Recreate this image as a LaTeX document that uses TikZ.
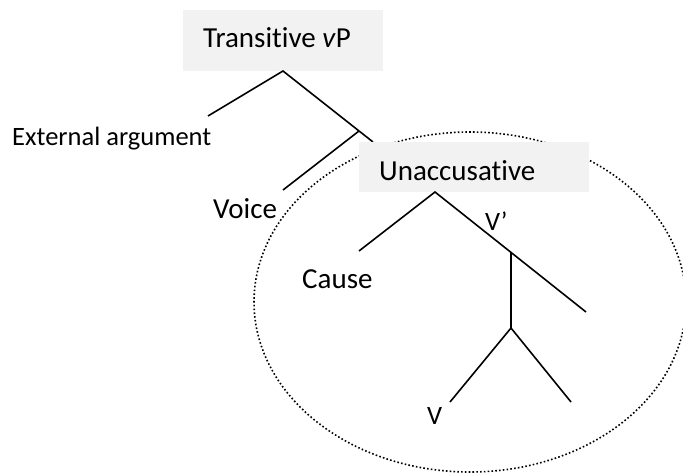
\documentclass[tikz,border=0pt]{standalone}
\usepackage{fontspec}
\setmainfont[Ligatures={NoCommon}]{Carlito}
\definecolor{boxgray}{HTML}{F2F2F2}
\begin{document}
\begin{tikzpicture}[x=1pt,y=-1pt,
  branch/.style={line width=1.6pt},
  labeltext/.style={anchor=base west,inner sep=0pt,font=\fontsize{26.5}{30}\selectfont},
  bigtext/.style={labeltext,font=\fontsize{29}{33}\selectfont},
  graybox/.style={fill=boxgray,draw=none,inner sep=0pt}]
\useasboundingbox (0,0) rectangle (683,474);
% dotted ellipse
\draw[line width=1.6pt,dash pattern=on 1.6pt off 2.2pt] (470,302) ellipse [x radius=216, y radius=170];
% boxes
\node[graybox,minimum width=200pt,minimum height=61pt] (tbox) at (283,40.5) {};
\node[bigtext] (ttext) at (203,47) {Transitive \textit{v}P};
% tree 1
\coordinate (tA) at (283,71);
\coordinate (ext) at (208,116);
\coordinate (tR) at (373,142);
\coordinate (tJ) at (359,131);
\coordinate (voi) at (283,190);
\draw[branch] (ext) -- (tA) -- (tR);
\draw[branch] (tJ) -- (voi);
\node[graybox,minimum width=230pt,minimum height=50pt] (ubox) at (474,167) {};
\node[bigtext] (utext) at (379,180) {Unaccusative};
% tree 2
\coordinate (uA) at (435,192);
\coordinate (cau) at (359,251);
\coordinate (vJ) at (511,253);
\coordinate (vR) at (586,312);
\coordinate (vL) at (511,328);
\coordinate (vll) at (450,402);
\coordinate (vlr) at (571,402);
\draw[branch] (cau) -- (uA) -- (vR);
\draw[branch] (vJ) -- (vL);
\draw[branch] (vll) -- (vL) -- (vlr);
% labels
\node[labeltext] (extl) at (12,145) {External argument};
\node[bigtext] (voil) at (213,218) {Voice};
\node[bigtext] (caul) at (302,288) {Cause};
\node[labeltext] (vbar) at (485,230) {V’};
\node[labeltext] (vl) at (427,424) {V};
\end{tikzpicture}
\end{document}
